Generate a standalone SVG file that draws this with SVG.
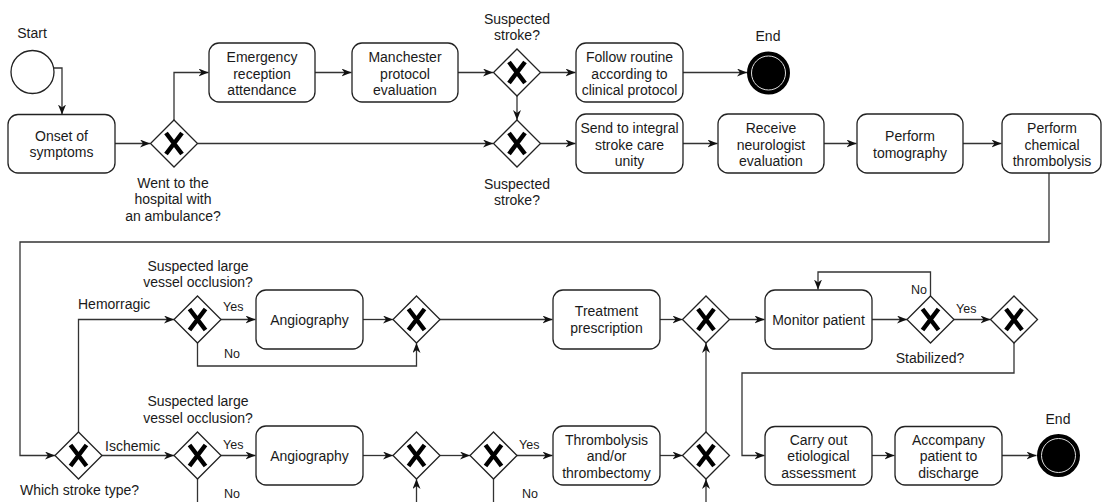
<svg xmlns="http://www.w3.org/2000/svg" xmlns:xlink="http://www.w3.org/1999/xlink" width="1102" height="502" viewBox="0 0 1102 502">
  <style>
    .box { fill: #ffffff; stroke: #222222; stroke-width: 1.3; }
    .gwd { fill: #ffffff; stroke: #222222; stroke-width: 1.3; }
    .gwx { fill: none; stroke: #000000; stroke-width: 4.5; }
    .conn path { fill: none; stroke: #333333; stroke-width: 1.3; }
    .arr { marker-end: url(#arrow); }
    text { font-family: "Liberation Sans", Arial, Helvetica, sans-serif; font-size: 14px; fill: #1a1a1a; }
    .c { text-anchor: middle; }
    .s { font-size: 12.5px; }
  </style>
  <defs>
    <marker id="arrow" markerUnits="userSpaceOnUse" markerWidth="10" markerHeight="8" refX="10" refY="4" orient="auto">
      <path d="M0,0 L10,4 L0,8 L3,4 Z" fill="#111111"/>
    </marker>
    <g id="gateway">
      <polygon class="gwd" points="0,-23.5 23.5,0 0,23.5 -23.5,0"/>
      <path class="gwx" d="M-8,-10.5 L8,10.5 M8,-10.5 L-8,10.5"/>
    </g>
    <g id="endEvent">
      <circle r="20" fill="#000000" stroke="#000000" stroke-width="3"/>
      <circle r="17" fill="none" stroke="#dddddd" stroke-width="1"/>
    </g>
  </defs>

  <rect width="1102" height="502" fill="#ffffff"/>

  <!-- connectors -->
  <g id="connectors" class="conn">
    <path class="arr" d="M53,68 H62 V114.5"/>
    <path class="arr" d="M115,143.5 H150"/>
    <path class="arr" d="M174,120 V72.5 H208.5"/>
    <path class="arr" d="M315,72.5 H351.5"/>
    <path class="arr" d="M458,72.5 H493"/>
    <path class="arr" d="M540.5,72.5 H575.5"/>
    <path class="arr" d="M683,72.5 H747"/>
    <path class="arr" d="M517,96 V120"/>
    <path class="arr" d="M197.5,143.5 H493"/>
    <path class="arr" d="M540.5,143.5 H575.5"/>
    <path class="arr" d="M683,143.5 H717.5"/>
    <path class="arr" d="M824,143.5 H856.5"/>
    <path class="arr" d="M963,143.5 H1001.5"/>
    <path class="arr" d="M1049,173 V242 H20 V455.5 H55"/>
    <path class="arr" d="M78.5,432 V319.5 H174"/>
    <path class="arr" d="M221,319.5 H255.5"/>
    <path class="arr" d="M197.5,343 V366 H416.5 V343"/>
    <path class="arr" d="M363,319.5 H393"/>
    <path class="arr" d="M440,319.5 H552.5"/>
    <path class="arr" d="M660,319.5 H682.5"/>
    <path class="arr" d="M729.5,319.5 H764.5"/>
    <path class="arr" d="M872,319.5 H907"/>
    <path class="arr" d="M930.5,296 V272 H818 V289.5"/>
    <path class="arr" d="M954,319.5 H990.5"/>
    <path class="arr" d="M1014,343 V373 H742 V455.5 H764.5"/>
    <path class="arr" d="M872,455.5 H894.5"/>
    <path class="arr" d="M1002,455.5 H1036.5"/>
    <path class="arr" d="M102,455.5 H174"/>
    <path class="arr" d="M221,455.5 H255.5"/>
    <path class="arr" d="M363,455.5 H393"/>
    <path class="arr" d="M440,455.5 H470"/>
    <path class="arr" d="M517,455.5 H552.5"/>
    <path class="arr" d="M660,455.5 H682.5"/>
    <path class="arr" d="M706,432 V343"/>
    <path d="M197.5,479 V512"/>
    <path class="arr" d="M416.5,512 V479"/>
    <path d="M493.5,479 V512"/>
    <path class="arr" d="M706,512 V479"/>
  </g>

  <!-- start event -->
  <g id="start">
    <circle cx="32.5" cy="72" r="21.5" fill="#ffffff" stroke="#222222" stroke-width="1.3"/>
    <text class="c" x="32" y="38">Start</text>
  </g>

  <g id="onset">
    <rect class="box" x="8" y="114.5" width="107" height="58.5" rx="10"/>
    <text class="c" x="61.5" y="141">Onset of</text>
    <text class="c" x="61.5" y="157">symptoms</text>
  </g>

  <g id="gw-ambulance">
    <use xlink:href="#gateway" x="174" y="143.5"/>
    <text class="c" x="173" y="187.5">Went to the</text>
    <text class="c" x="173" y="204">hospital with</text>
    <text class="c" x="173" y="220.5">an ambulance?</text>
  </g>

  <g id="emergency">
    <rect class="box" x="209" y="43" width="106" height="59" rx="10"/>
    <text class="c" x="262" y="62">Emergency</text>
    <text class="c" x="262" y="78.5">reception</text>
    <text class="c" x="262" y="95">attendance</text>
  </g>

  <g id="manchester">
    <rect class="box" x="352" y="43" width="106" height="59" rx="10"/>
    <text class="c" x="405" y="62">Manchester</text>
    <text class="c" x="405" y="78.5">protocol</text>
    <text class="c" x="405" y="95">evaluation</text>
  </g>

  <g id="gw-suspected-1">
    <use xlink:href="#gateway" x="517" y="72.5"/>
    <text class="c" x="517" y="23.5">Suspected</text>
    <text class="c" x="517" y="40">stroke?</text>
  </g>

  <g id="follow-routine">
    <rect class="box" x="576" y="43" width="107" height="59" rx="10"/>
    <text class="c" x="629.5" y="62">Follow routine</text>
    <text class="c" x="629.5" y="78.5">according to</text>
    <text class="c" x="629.5" y="95">clinical protocol</text>
  </g>

  <g id="end-1">
    <use xlink:href="#endEvent" x="768.5" y="73"/>
    <text class="c" x="768" y="41">End</text>
  </g>

  <g id="gw-suspected-2">
    <use xlink:href="#gateway" x="517" y="143.5"/>
    <text class="c" x="517" y="188.5">Suspected</text>
    <text class="c" x="517" y="205">stroke?</text>
  </g>

  <g id="send-integral">
    <rect class="box" x="576" y="114" width="107" height="59" rx="10"/>
    <text class="c" x="629.5" y="133">Send to integral</text>
    <text class="c" x="629.5" y="149.5">stroke care</text>
    <text class="c" x="629.5" y="166">unity</text>
  </g>

  <g id="neurologist">
    <rect class="box" x="718" y="114" width="106" height="59" rx="10"/>
    <text class="c" x="771" y="133">Receive</text>
    <text class="c" x="771" y="149.5">neurologist</text>
    <text class="c" x="771" y="166">evaluation</text>
  </g>

  <g id="tomography">
    <rect class="box" x="857" y="114" width="106" height="59" rx="10"/>
    <text class="c" x="910" y="141">Perform</text>
    <text class="c" x="910" y="157.5">tomography</text>
  </g>

  <g id="chemical-thrombolysis">
    <rect class="box" x="1002" y="114" width="99" height="59" rx="10"/>
    <text class="c" x="1052" y="133">Perform</text>
    <text class="c" x="1052" y="149.5">chemical</text>
    <text class="c" x="1052" y="166">thrombolysis</text>
  </g>

  <g id="gw-stroke-type">
    <use xlink:href="#gateway" x="78.5" y="455.5"/>
    <text x="20" y="495">Which stroke type?</text>
    <text x="78" y="309">Hemorragic</text>
    <text x="105" y="451">Ischemic</text>
  </g>

  <g id="gw-lvo-hem">
    <use xlink:href="#gateway" x="197.5" y="319.5"/>
    <text class="c" x="198" y="270.5">Suspected large</text>
    <text class="c" x="198" y="287">vessel occlusion?</text>
    <text class="s" x="223" y="311">Yes</text>
    <text class="s" x="224" y="358">No</text>
  </g>

  <g id="angiography-1">
    <rect class="box" x="256" y="290" width="107" height="59" rx="10"/>
    <text class="c" x="309.5" y="324.5">Angiography</text>
  </g>

  <g id="gw-merge-hem">
    <use xlink:href="#gateway" x="416.5" y="319.5"/>
  </g>

  <g id="treatment">
    <rect class="box" x="553" y="290" width="107" height="59" rx="10"/>
    <text class="c" x="606.5" y="316">Treatment</text>
    <text class="c" x="606.5" y="332.5">prescription</text>
  </g>

  <g id="gw-merge-treat">
    <use xlink:href="#gateway" x="706" y="319.5"/>
  </g>

  <g id="monitor">
    <rect class="box" x="765" y="290" width="107" height="59" rx="10"/>
    <text class="c" x="818.5" y="324.5">Monitor patient</text>
  </g>

  <g id="gw-stabilized">
    <use xlink:href="#gateway" x="930.5" y="319.5"/>
    <text class="s" x="911" y="294">No</text>
    <text class="s" x="956" y="313">Yes</text>
    <text class="c" x="930" y="363">Stabilized?</text>
  </g>

  <g id="gw-merge-final">
    <use xlink:href="#gateway" x="1014" y="319.5"/>
  </g>

  <g id="gw-lvo-isch">
    <use xlink:href="#gateway" x="197.5" y="455.5"/>
    <text class="c" x="198" y="406">Suspected large</text>
    <text class="c" x="198" y="422.5">vessel occlusion?</text>
    <text class="s" x="223" y="449">Yes</text>
    <text class="s" x="224" y="498">No</text>
  </g>

  <g id="angiography-2">
    <rect class="box" x="256" y="426" width="107" height="59" rx="10"/>
    <text class="c" x="309.5" y="460.5">Angiography</text>
  </g>

  <g id="gw-merge-isch">
    <use xlink:href="#gateway" x="416.5" y="455.5"/>
  </g>

  <g id="gw-intervention">
    <use xlink:href="#gateway" x="493.5" y="455.5"/>
    <text class="s" x="519" y="449">Yes</text>
    <text class="s" x="522" y="498">No</text>
  </g>

  <g id="thrombectomy">
    <rect class="box" x="553" y="426" width="107" height="59" rx="10"/>
    <text class="c" x="606.5" y="444.5">Thrombolysis</text>
    <text class="c" x="606.5" y="461">and/or</text>
    <text class="c" x="606.5" y="477.5">thrombectomy</text>
  </g>

  <g id="gw-merge-isch-2">
    <use xlink:href="#gateway" x="706" y="455.5"/>
  </g>

  <g id="etiological">
    <rect class="box" x="765" y="426.5" width="107" height="58.5" rx="10"/>
    <text class="c" x="818.5" y="444.5">Carry out</text>
    <text class="c" x="818.5" y="461">etiological</text>
    <text class="c" x="818.5" y="477.5">assessment</text>
  </g>

  <g id="discharge">
    <rect class="box" x="895" y="426.5" width="107" height="58.5" rx="10"/>
    <text class="c" x="948.5" y="444.5">Accompany</text>
    <text class="c" x="948.5" y="461">patient to</text>
    <text class="c" x="948.5" y="477.5">discharge</text>
  </g>

  <g id="end-2">
    <use xlink:href="#endEvent" x="1058.5" y="455.5"/>
    <text class="c" x="1058" y="424">End</text>
  </g>
</svg>
